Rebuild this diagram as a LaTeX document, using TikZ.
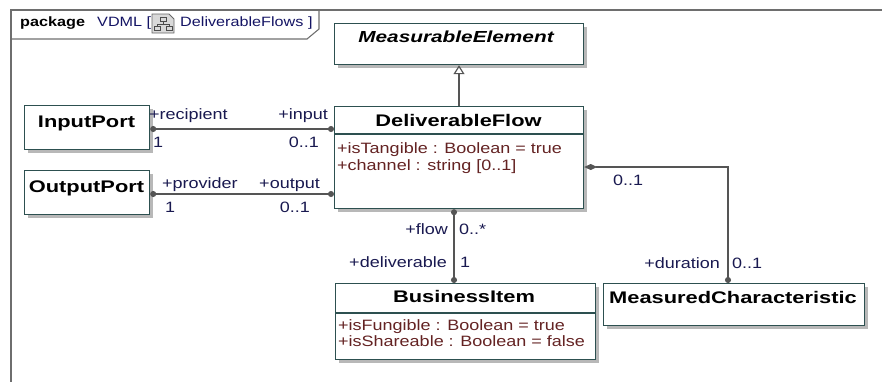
\documentclass[tikz,border=0pt]{standalone}
\usepackage{fontspec}
\setmainfont{Liberation Sans}[FakeStretch=1.2]
\newfontfamily\ttlfont{Liberation Sans}[FakeStretch=1.3]
\usetikzlibrary{arrows.meta,shadows}
\definecolor{boxc}{RGB}{45,80,80}
\definecolor{attrc}{RGB}{100,35,35}
\definecolor{lblc}{RGB}{25,25,80}
\definecolor{linec}{RGB}{85,85,85}
\definecolor{framec}{RGB}{110,110,110}
\definecolor{hdrc}{RGB}{20,20,100}
\begin{document}
\begin{tikzpicture}[x=1pt,y=-1pt,
  cls/.style={draw=boxc, line width=1.2pt, fill=white, inner sep=0pt, anchor=north west,
    drop shadow={shadow xshift=3pt, shadow yshift=-3pt, fill=black!28, opacity=1}},
  sep/.style={draw=boxc, line width=1.1pt},
  ttl/.style={font=\ttlfont\bfseries\fontsize{16.8}{18}\selectfont, text=black, inner sep=0pt, anchor=base},
  attr/.style={font=\fontsize{15}{17}\selectfont, text=attrc, inner sep=0pt, anchor=base west},
  lbl/.style={font=\fontsize{15}{17}\selectfont, text=lblc, inner sep=0pt},
  assoc/.style={draw=linec, line width=1.2pt},
  frm/.style={draw=framec, line width=1.4pt},
  hdr/.style={font=\fontsize{13.5}{15}\selectfont, inner sep=0pt, anchor=base west}
]
\useasboundingbox (0,0) rectangle (882,381);
\clip (0,0) rectangle (882,381);

% package frame
\coordinate (fbl) at (11,400);
\coordinate (ftl) at (11,10);
\coordinate (ftr) at (900,10);
\coordinate (tab1) at (11,39);
\coordinate (tab2) at (307,39);
\coordinate (tab3) at (319,29);
\coordinate (tab4) at (319,10);
\draw[frm] (fbl) -- (ftl) -- (ftr);
\draw[frm, line width=1.1pt] (tab1) -- (tab2) -- (tab3) -- (tab4);
\node[hdr, font=\bfseries\fontsize{13.5}{15}\selectfont, text=black] (pk) at (20,26) {package};
\node[hdr, text=hdrc] (vd) at (97,26) {VDML [};
% diagram icon
\fill[gray!30, draw=gray!80!black, line width=0.8pt] (152,14) -- (169,14) -- (174,19) -- (174,33) -- (152,33) -- cycle;
\draw[gray!60!black, line width=0.8pt] (160,17) rectangle (166,21)
  (163,21) -- (163,24) (157,24) -- (169,24) (157,24) -- (157,26) (169,24) -- (169,26)
  (154,26) rectangle (160,30) (166,26) rectangle (172,30);
\node[hdr, text=hdrc] (dfn) at (180,26) {DeliverableFlows ]};

% classes
\node[cls, minimum width=249pt, minimum height=41pt] (me) at (334,23) {};
\node[ttl, font=\ttlfont\bfseries\itshape\fontsize{16}{18}\selectfont] (met) at (456,42.5) {MeasurableElement};

\node[cls, minimum width=249pt, minimum height=102pt] (df) at (334,106) {};
\node[ttl] (dft) at (458.5,126) {DeliverableFlow};
\coordinate (dfs) at (0,134);
\draw[sep] (df.west |- dfs) -- (df.east |- dfs);
\node[attr] (dfa1) at (337,153) {+isTangible : Boolean = true};
\node[attr] (dfa2) at (337,170) {+channel : string [0..1]};

\node[cls, minimum width=125pt, minimum height=44pt] (ip) at (24,105) {};
\node[ttl] (ipt) at (86.5,127.7) {InputPort};

\node[cls, minimum width=125pt, minimum height=44pt] (op) at (24,170) {};
\node[ttl] (opt) at (86.5,192.7) {OutputPort};

\node[cls, minimum width=260pt, minimum height=76pt] (bi) at (335,283) {};
\node[ttl] (bit) at (464,302.7) {BusinessItem};
\coordinate (bis) at (0,313);
\draw[sep] (bi.west |- bis) -- (bi.east |- bis);
\node[attr] (bia1) at (338,330) {+isFungible : Boolean = true};
\node[attr] (bia2) at (338,346.7) {+isShareable : Boolean = false};

\node[cls, minimum width=261pt, minimum height=42pt] (mc) at (603,283) {};
\node[ttl] (mct) at (733,303) {MeasuredCharacteristic};

% generalization
\coordinate (gx) at (459,0);
\draw[assoc, -{Triangle[open, width=11pt, length=9pt]}] (df.north -| gx) -- (me.south -| gx);

% InputPort association
\coordinate (y1) at (0,129);
\draw[assoc, {Circle[length=6pt]}-{Circle[length=6pt]}] (ip.east |- y1) -- (df.west |- y1);
\node[lbl, anchor=base west] (l1) at (149,119.5) {+recipient};
\node[lbl, anchor=base west] (l2) at (153,147) {1};
\node[lbl, anchor=base east] (l3) at (328,119.5) {+input};
\node[lbl, anchor=base east] (l4) at (319,147) {0..1};

% OutputPort association
\coordinate (y2) at (0,194);
\draw[assoc, {Circle[length=6pt]}-{Circle[length=6pt]}] (op.east |- y2) -- (df.west |- y2);
\node[lbl, anchor=base west] (l5) at (162,188) {+provider};
\node[lbl, anchor=base west] (l6) at (165,212.5) {1};
\node[lbl, anchor=base east] (l7) at (320,188) {+output};
\node[lbl, anchor=base east] (l8) at (310,212.5) {0..1};

% flow association
\coordinate (fx) at (454,0);
\draw[assoc, {Circle[length=6pt]}-{Circle[length=6pt]}] (df.south -| fx) -- (bi.north -| fx);
\node[lbl, anchor=base east] (l9) at (448,234) {+flow};
\node[lbl, anchor=base west] (l10) at (459,234) {0..*};
\node[lbl, anchor=base east] (l11) at (447,267.5) {+deliverable};
\node[lbl, anchor=base west] (l12) at (460,267.5) {1};

% duration association
\coordinate (y3) at (0,167);
\coordinate (dx) at (728,0);
\draw[assoc, {Diamond[length=13pt, width=6pt]}-{Circle[length=6pt]}] (df.east |- y3) -| (mc.north -| dx);
\node[lbl, anchor=base west] (l13) at (613,185.7) {0..1};
\node[lbl, anchor=base east] (l14) at (720,268) {+duration};
\node[lbl, anchor=base west] (l15) at (732,268) {0..1};
\end{tikzpicture}
\end{document}
